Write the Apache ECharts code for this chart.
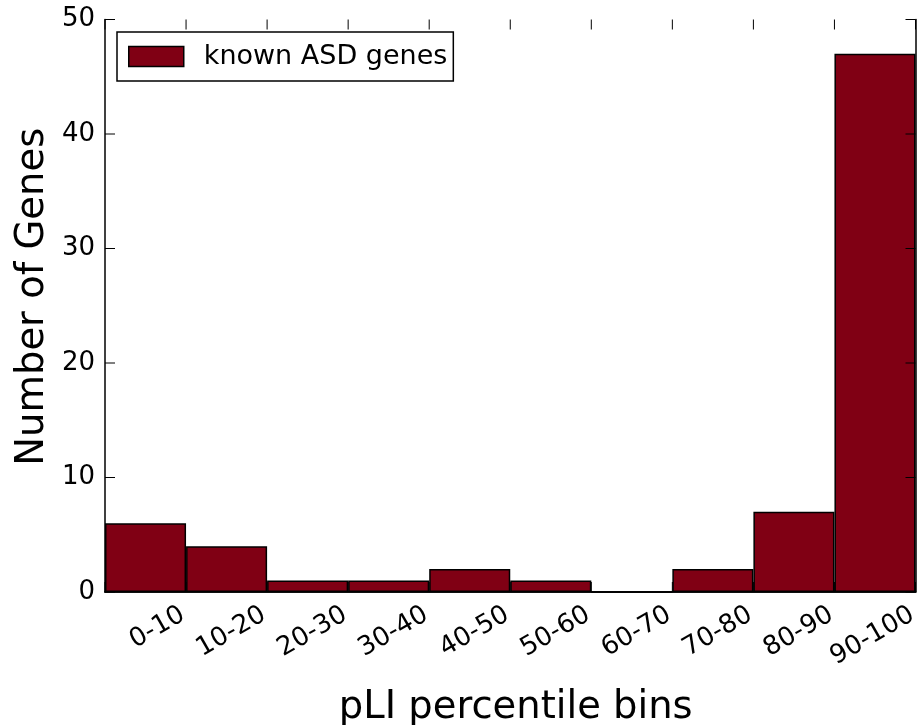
<!DOCTYPE html>
<html>
<head>
<meta charset="utf-8">
<script src="https://cdn.jsdelivr.net/npm/echarts@6/dist/echarts.min.js"></script>
<style>
  html, body { margin: 0; padding: 0; background: #ffffff; }
  #chart { width: 917px; height: 725px; }
</style>
</head>
<body>
<div id="chart"></div>
<script>
// pLI percentile bins and the number of known ASD genes in each
const bins = ['0-10', '10-20', '20-30', '30-40', '40-50', '50-60', '60-70', '70-80', '80-90', '90-100'];
const geneCounts = [6, 4, 1, 1, 2, 1, 0, 2, 7, 47];
const yTicks = [0, 10, 20, 30, 40, 50];
const seriesName = 'known ASD genes';

const FONT = 'DejaVu Sans';
const INK = '#000000';
const BAR_FILL = '#800014';
const TICK_LEN = 10;

const chart = echarts.init(document.getElementById('chart'), null, { renderer: 'canvas' });

const yMin = yTicks[0];
const yMax = yTicks[yTicks.length - 1];
const yStep = yTicks[1] - yTicks[0];

// frame axis: solid line, no ticks
function frameLine() {
  return { show: true, lineStyle: { color: INK, width: 1.5 } };
}
const tickStyle = { stroke: INK, lineWidth: 1 };

// inward ticks on the top and bottom frame, at the bin boundaries
function renderBinTicks(params, api) {
  const cs = params.coordSys;
  const idx = api.value(0);
  const half = api.size([1, 0])[0] / 2;
  const centre = api.coord([idx, 0])[0];
  const xs = [centre - half];
  if (idx === bins.length - 1) xs.push(centre + half);
  const top = cs.y;
  const bottom = cs.y + cs.height;
  const children = [];
  xs.forEach(function (x) {
    children.push({ type: 'line', shape: { x1: x, y1: bottom, x2: x, y2: bottom - TICK_LEN }, style: tickStyle });
    children.push({ type: 'line', shape: { x1: x, y1: top, x2: x, y2: top + TICK_LEN }, style: tickStyle });
  });
  return { type: 'group', children: children };
}

// inward ticks on the left and right frame, at the y tick values
function renderValueTicks(params, api) {
  const cs = params.coordSys;
  const y = api.coord([0, api.value(1)])[1];
  const left = cs.x;
  const right = cs.x + cs.width;
  return {
    type: 'group',
    children: [
      { type: 'line', shape: { x1: left, y1: y, x2: left + TICK_LEN, y2: y }, style: tickStyle },
      { type: 'line', shape: { x1: right, y1: y, x2: right - TICK_LEN, y2: y }, style: tickStyle }
    ]
  };
}

chart.setOption({
  animation: false,
  backgroundColor: '#ffffff',
  textStyle: { fontFamily: FONT, color: INK },
  grid: { left: 105, right: 1.5, top: 19.5, bottom: 133, outerBoundsMode: 'none', containLabel: false },
  legend: {
    show: true,
    data: [seriesName],
    left: 117,
    top: 32,
    orient: 'horizontal',
    icon: 'rect',
    itemWidth: 55,
    itemHeight: 20,
    padding: [11, 6, 11, 11],
    borderColor: INK,
    borderWidth: 1.5,
    borderRadius: 0,
    backgroundColor: '#ffffff',
    itemStyle: { borderColor: INK, borderWidth: 1.5 },
    textStyle: { fontFamily: FONT, fontSize: 27, color: INK, padding: [0, 0, 0, 15], lineHeight: 24 }
  },
  xAxis: [
    {
      type: 'category',
      data: bins,
      position: 'bottom',
      boundaryGap: true,
      axisLine: frameLine(),
      axisTick: { show: false },
      axisLabel: {
        interval: 0,
        rotate: 30,
        align: 'right',
        verticalAlign: 'top',
        lineHeight: 26,
        padding: [62, 0, 0, 0],
        margin: -44,
        fontFamily: FONT,
        fontSize: 26,
        color: INK
      },
      splitLine: { show: false },
      name: 'pLI percentile bins',
      nameLocation: 'middle',
      nameGap: 96,
      nameMoveOverlap: false,
      nameTextStyle: { fontFamily: FONT, fontSize: 38.5, color: INK, padding: [0, 0, 0, 11] }
    },
    {
      type: 'category',
      data: bins,
      position: 'top',
      boundaryGap: true,
      axisLine: frameLine(),
      axisTick: { show: false },
      axisLabel: { show: false },
      splitLine: { show: false }
    }
  ],
  yAxis: [
    {
      type: 'value',
      position: 'left',
      min: yMin,
      max: yMax,
      interval: yStep,
      axisLine: frameLine(),
      axisTick: { show: false },
      axisLabel: { fontFamily: FONT, fontSize: 26, color: INK, margin: 10 },
      splitLine: { show: false },
      name: 'Number of Genes',
      nameLocation: 'middle',
      nameGap: 53,
      nameMoveOverlap: false,
      nameTextStyle: { fontFamily: FONT, fontSize: 38.5, color: INK, padding: [0, 0, 0, 18] }
    },
    {
      type: 'value',
      position: 'right',
      min: yMin,
      max: yMax,
      interval: yStep,
      axisLine: frameLine(),
      axisTick: { show: false },
      axisLabel: { show: false },
      splitLine: { show: false }
    }
  ],
  series: [
    {
      name: seriesName,
      type: 'bar',
      xAxisIndex: 0,
      yAxisIndex: 0,
      data: geneCounts,
      barCategoryGap: '0%',
      itemStyle: { color: BAR_FILL, borderColor: INK, borderWidth: 1.5 },
      emphasis: { disabled: true },
      z: 2
    },
    {
      name: 'bin ticks',
      type: 'custom',
      xAxisIndex: 0,
      yAxisIndex: 0,
      data: bins.map(function (b, i) { return [i, yMin]; }),
      renderItem: renderBinTicks,
      silent: true,
      clip: false,
      z: 5
    },
    {
      name: 'value ticks',
      type: 'custom',
      xAxisIndex: 0,
      yAxisIndex: 0,
      data: yTicks.map(function (v) { return [0, v]; }),
      renderItem: renderValueTicks,
      silent: true,
      clip: false,
      z: 5
    }
  ]
});
</script>
</body>
</html>
